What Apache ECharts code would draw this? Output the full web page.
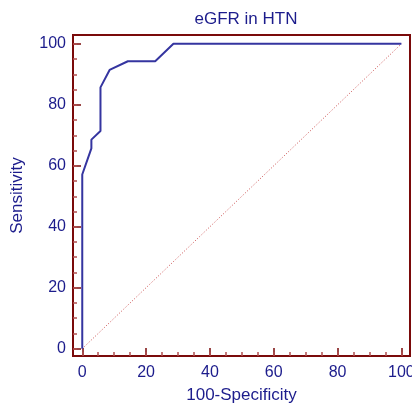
<!DOCTYPE html>
<html><head><meta charset="utf-8">
<script src="https://cdn.jsdelivr.net/npm/echarts@6/dist/echarts.min.js"></script>
<style>html,body{margin:0;padding:0;background:#fff}#c{width:412px;height:406px}</style>
</head><body><div id="c"></div>
<script>
const rocX = [0, 0, 2.86, 2.86, 5.71, 5.71, 8.57, 14.29, 22.86, 28.57, 100];
const rocY = [0, 57.14, 65.71, 68.57, 71.43, 85.71, 91.43, 94.29, 94.29, 100, 100];
const refX = [0, 100];
const refY = [0, 100];
const majorTicks = [0, 20, 40, 60, 80, 100];
const minorTicks = [0,5,10,15,20,25,30,35,40,45,50,55,60,65,70,75,80,85,90,95,100];
const titleText = 'eGFR in HTN';
const xName = '100-Specificity';
const yName = 'Sensitivity';

const navy = '#1c1c8c';
const axisRed = '#7a0a0a';
const font = 'Liberation Sans, Arial, sans-serif';

function mkAxis(isX, major) {
  return {
    type: 'value', min: isX ? -2.9 : -2.4, max: isX ? 102.7 : 102.9,
    position: isX ? 'bottom' : 'left',
    name: major ? (isX ? xName : yName) : '',
    nameLocation: 'middle', nameGap: isX ? 31 : 47,
    nameTextStyle: {color: navy, fontSize: 17, fontFamily: font},
    axisLine: {show: major, onZero: false, lineStyle: {color: axisRed, width: 2}},
    axisTick: {show: true, inside: true, length: major ? 8 : 4, customValues: major ? majorTicks : minorTicks,
      lineStyle: {color: major ? axisRed : '#b05050', width: 1.5}},
    axisLabel: {show: major, customValues: majorTicks, color: navy, fontSize: 16, fontFamily: font, margin: isX ? 9 : 7},
    splitLine: {show: false}
  };
}

const chart = echarts.init(document.getElementById('c'));
chart.setOption({
  animation: false,
  title: {text: titleText, left: 241, top: 6, textAlign: 'center',
    textStyle: {color: navy, fontSize: 17, fontWeight: 'normal', fontFamily: font}},
  grid: {left: 73, right: 2, top: 35, bottom: 50, containLabel: false, outerBoundsMode: 'none',
    show: true, borderColor: axisRed, borderWidth: 2, backgroundColor: 'transparent'},
  xAxis: [mkAxis(true, true), mkAxis(true, false)],
  yAxis: [mkAxis(false, true), mkAxis(false, false)],
  series: [
    {type: 'line', xAxisIndex: 0, yAxisIndex: 0, data: refX.map((x, i) => [x, refY[i]]), symbol: 'none',
      lineStyle: {color: '#c84848', width: 1, type: [1, 2]}},
    {type: 'line', xAxisIndex: 0, yAxisIndex: 0, data: rocX.map((x, i) => [x, rocY[i]]), symbol: 'none',
      lineStyle: {color: '#3535a0', width: 2}}
  ]
});
</script></body></html>
